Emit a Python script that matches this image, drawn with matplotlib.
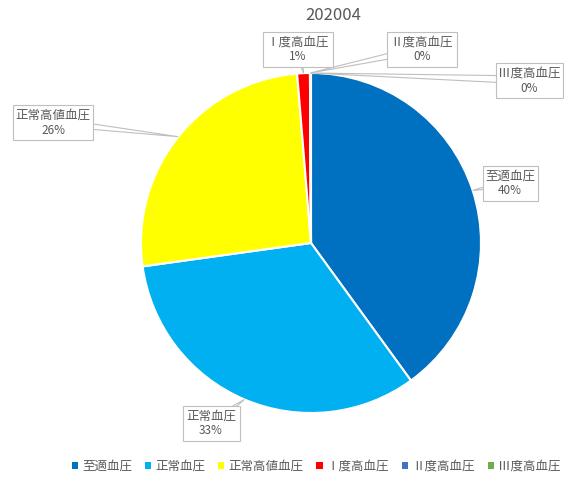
import matplotlib
matplotlib.use('Agg')
import matplotlib.pyplot as plt
from matplotlib.patches import Polygon, Patch
import numpy as np

plt.rcParams['font.family'] = ['Noto Sans CJK JP', 'DejaVu Sans']

# data
categories = ['至適血圧', '正常血圧', '正常高値血圧', 'Ⅰ度高血圧', 'Ⅱ度高血圧', 'Ⅲ度高血圧']
shares = [40.0, 32.8, 25.9, 1.2, 0.05, 0.05]
colors = ['#0070C0', '#00B0F0', '#FFFF00', '#FF0000', '#4472C4', '#70AD47']
title = '202004'

# label box centres (pixel coords, y from top) and sizes
box_pos = [(510, 183), (211, 423), (53, 122), (298, 49), (422, 49), (529, 80)]
box_w = [55, 57, 80, 70, 70, 67]
box_h = 35

W, H = 574, 480
fig = plt.figure(figsize=(W / 100, H / 100), dpi=100)
ax = fig.add_axes([0, 0, 1, 1])

cx, cy, r = 311, H - 243, 170
wedges, _ = ax.pie(shares, colors=colors, startangle=90, counterclock=False,
                   center=(cx, cy), radius=r, frame=True,
                   wedgeprops=dict(edgecolor='white', linewidth=1.5))
ax.set_xlim(0, W)
ax.set_ylim(0, H)
ax.axis('off')

total = sum(shares)
for i, w in enumerate(wedges):
    mid = np.deg2rad((w.theta1 + w.theta2) / 2)
    tip = (cx + r * np.cos(mid), cy + r * np.sin(mid))
    bx, by = box_pos[i]
    by = H - by
    bw = box_w[i]
    # callout pointer: thin wedge from box centre to the slice edge
    dx, dy = tip[0] - bx, tip[1] - by
    d = np.hypot(dx, dy)
    nx, ny = -dy / d * 4, dx / d * 4
    ax.add_patch(Polygon([(bx + nx, by + ny), tip, (bx - nx, by - ny)], closed=True,
                         facecolor='white', edgecolor='#BFBFBF', linewidth=0.8, zorder=4))
    ax.add_patch(plt.Rectangle((bx - bw / 2, by - box_h / 2), bw, box_h,
                               facecolor='white', edgecolor='#BFBFBF', linewidth=0.8, zorder=5))
    pct = shares[i] / total * 100
    ax.text(bx, by + 7, categories[i], ha='center', va='center', fontsize=9,
            color='#595959', zorder=6)
    ax.text(bx, by - 8, f'{pct:.0f}%', ha='center', va='center', fontsize=8.5,
            color='#595959', zorder=6)

fig.text(333 / W, 1 - 16 / H, title, ha='center', va='center', fontsize=12, color='#595959')

handles = [Patch(facecolor=c, edgecolor='none') for c in colors]
fig.legend(handles, categories, loc='center', bbox_to_anchor=(316 / W, 1 - 466 / H), ncol=6,
           frameon=False, fontsize=9, handlelength=0.5, handleheight=0.5,
           handletextpad=0.3, columnspacing=1.05, labelcolor='#595959')

fig.savefig('out.png', dpi=100, facecolor='white')
